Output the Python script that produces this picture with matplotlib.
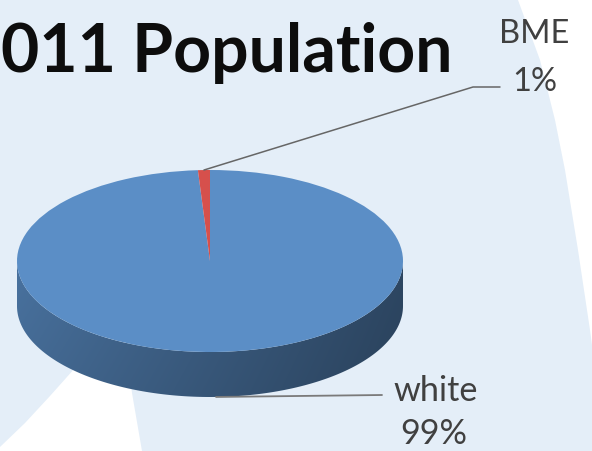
import numpy as np
import matplotlib
matplotlib.use("Agg")
import matplotlib.pyplot as plt
from matplotlib.colors import to_rgb
from matplotlib.patches import Polygon

W, H = 592, 451

# data
labels = ["white", "BME"]
values = [99, 1]
pct_labels = ["99%", "1%"]
slice_colors = ["#5B8EC6", "#D6504C"]

BG = "#E4EEF8"
INK = "#0D0D0D"
LABEL = "#404040"
LEADER = "#7A7A7A"

# pie geometry in pixels (top face ellipse + side depth)
CX, CY, RX, RY, DEPTH = 210, 261, 193, 91, 45

RIGHT_SHAPE = [(518, 0), (540, 60), (555, 120), (565, 170), (578, 250),
               (590, 330), (592, 345), (592, 0)]
LEFT_SHAPE = [(0, 451), (0, 447), (25, 423), (50, 396), (75, 368), (100, 340),
              (120, 320), (125, 320), (128, 360), (132, 393), (137, 422), (142, 451)]


def px(ax):
    ax.set_xlim(0, W)
    ax.set_ylim(H, 0)
    ax.axis("off")


def fit_text(ax, x, y, s, width, **kw):
    t = ax.text(x, y, s, fontsize=20, **kw)
    r = ax.figure.canvas.get_renderer()
    w = t.get_window_extent(renderer=r).width
    t.set_fontsize(20 * width / w)
    return t


fig = plt.figure(figsize=(W / 100, H / 100), dpi=100)
fig.patch.set_facecolor(BG)

bg = fig.add_axes([0, 0, 1, 1], zorder=0)
px(bg)
bg.add_patch(Polygon(RIGHT_SHAPE, closed=True, fc="white", ec="none"))
bg.add_patch(Polygon(LEFT_SHAPE, closed=True, fc="white", ec="none"))

# pie top face from the data
pa = fig.add_axes([0, 0, 1, 1], zorder=1)
pa.patch.set_alpha(0)
wedges, _ = pa.pie(values, colors=slice_colors, startangle=90, counterclock=False,
                   radius=1, center=(0, 0), wedgeprops=dict(linewidth=0))
pa.set_aspect("auto")
xlim = (-CX / RX, (W - CX) / RX)
ylim = ((CY - H) / RY, CY / RY)
pa.set_xlim(*xlim)
pa.set_ylim(*ylim)
pa.axis("off")
for w in wedges:
    w.set_zorder(3)

# side of the pie (front half) as one gradient clipped to its outline
d = DEPTH / RY


def owner(t):
    for w in wedges:
        a, b = w.theta1 % 360, w.theta2 % 360
        if b <= a:
            b += 360
        tt = t % 360
        if a <= tt <= b or a <= tt + 360 <= b:
            return w
    return wedges[0]


ang = np.linspace(180, 360, 200)
rad = np.radians(ang)
outline = [(np.cos(r), np.sin(r)) for r in rad] + \
          [(np.cos(r), np.sin(r) - d) for r in rad[::-1]]
side = Polygon(outline, closed=True, fc="none", ec="none")
pa.add_patch(side)

nx, ny = 300, 60
xs = np.linspace(-1, 1, nx)
ys = np.linspace(0, 1, ny)
img = np.zeros((ny, nx, 3))
for i, x in enumerate(xs):
    t = 360 - np.degrees(np.arccos(np.clip(x, -1, 1)))
    base = np.array(to_rgb(owner(t).get_facecolor()))
    f = 0.80 - 0.30 * (x + 1) / 2
    for j, y in enumerate(ys):
        img[j, i] = np.clip(base * f * (1 - 0.08 * y), 0, 1)
im = pa.imshow(img, extent=(-1, 1, -1 - d, 0), origin="upper",
               interpolation="bilinear", aspect="auto", zorder=2)
im.set_clip_path(side)
pa.set_xlim(*xlim)
pa.set_ylim(*ylim)

# annotations
top = fig.add_axes([0, 0, 1, 1], zorder=2)
top.patch.set_alpha(0)
px(top)

fit_text(top, 1, 72, "011 Population", 452, ha="left", va="baseline",
         family="Lato", weight="bold", color=INK)

mids = [np.radians((w.theta1 + w.theta2) / 2) for w in wedges]

# BME leader from the top rim of its slice
bx, by = CX + RX * np.cos(mids[1]), CY - RY * np.sin(mids[1])
top.plot([bx, 473, 500], [by, 87, 87], color="#666666", lw=1.1, solid_capstyle="round")
t = fit_text(top, 534, 43, labels[1], 70, ha="center", va="baseline",
             family="Lato", color=LABEL)
top.text(535, 91, pct_labels[1], fontsize=t.get_fontsize(), ha="center",
         va="baseline", family="Lato", color=LABEL)

# white leader from the bottom of the side
wx, wy = CX + RX * np.cos(mids[0]), CY - RY * np.sin(mids[0]) + DEPTH
top.plot([wx, 382], [wy, 395], color=LEADER, lw=1.3, solid_capstyle="round")
t = fit_text(top, 436, 401, labels[0], 85, ha="center", va="baseline",
             family="Lato", color=LABEL)
top.text(434, 444, pct_labels[0], fontsize=t.get_fontsize(), ha="center",
         va="baseline", family="Lato", color=LABEL)

fig.savefig("out.png", dpi=100, facecolor=BG)
